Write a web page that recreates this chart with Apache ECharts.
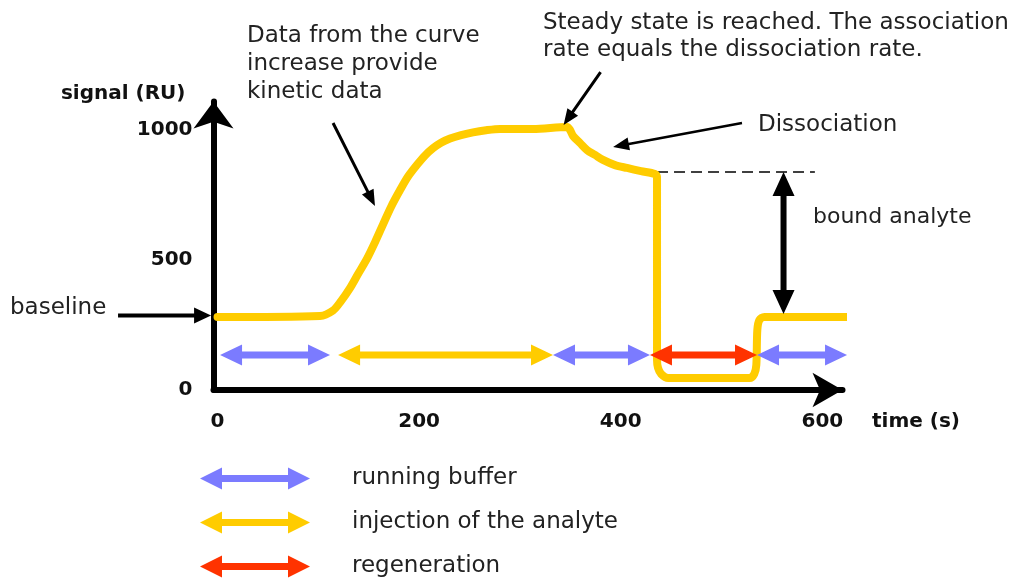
<!DOCTYPE html>
<html>
<head>
<meta charset="utf-8">
<script src="https://cdn.jsdelivr.net/npm/echarts@6/dist/echarts.min.js"></script>
<style>
html,body{margin:0;padding:0;background:#fff;}
#chart{width:1025px;height:583px;}
</style>
</head>
<body>
<div id="chart"></div>
<script>
// ---- data ----
const xTickValues = [0, 200, 400, 600];
const yTickValues = [0, 500, 1000];

// sensorgram curve (time s, signal RU)
const timeS = [0, 101.7, 114.6, 122.5, 131.4, 139.4, 148.3, 156.2, 164.2, 172.1, 181.1, 189, 197.9, 205.9, 213.8, 221.7, 230.7, 241.6, 253.5, 266.4, 280.3, 313, 346.7, 349.7, 352.7, 359.6, 366.6, 374.5, 382.4, 394.3, 406.2, 420.1, 434, 436, 436, 437, 440, 447, 528, 532.5, 534.5, 535.5, 537.5, 542.5, 624.7];
const signalRU = [281, 285, 306, 342, 392, 446, 505, 568, 637, 704, 769, 821, 866, 902, 930, 951, 967, 980, 991, 999, 1004, 1004, 1012, 1000, 977, 950, 923, 904, 885, 865, 854, 842, 831, 819, 115, 85, 62, 46, 46, 62, 96, 231, 269, 281, 281];

// phases [startTime, endTime] drawn at signal level phaseLevel
const phaseLevel = 135;
const runningBuffer = [[2.5, 111.6], [332.8, 429], [535.2, 624.5]];
const injection = [[119.6, 332.8]];
const regeneration = [[429, 535.2]];

// level of remaining bound analyte
const boundLevel = [838, 292];   // top, bottom of "bound analyte" arrow
const boundTime = 561.5;
const dashedLine = [[436, 838], [592.6, 838]];

// annotation arrows [t0, v0, t1, v1] (tip at t1,v1)
const baselineArrow = [[-98.7, 286.5, -6.4, 286.5]];
const kineticArrow = [[114.6, 1027, 156.2, 708]];
const steadyArrow = [[380, 1223, 343.3, 1019]];
const dissocArrow = [[520.3, 1027, 392.4, 935]];

const phaseNames = ['running buffer', 'injection of the analyte', 'regeneration'];
const phaseColors = ['#7B7BFF', '#FFCC00', '#FF3300'];

// ---- helpers ----
function arrowPolygon(p0, p1, head, headW, shaft, both) {
  const dx = p1[0] - p0[0], dy = p1[1] - p0[1];
  const L = Math.sqrt(dx * dx + dy * dy) || 1;
  const ux = dx / L, uy = dy / L, nx = -uy, ny = ux;
  const P = (b, a, n) => [b[0] + ux * a + nx * n, b[1] + uy * a + ny * n];
  const pts = [];
  if (both) {
    pts.push(p0, P(p0, head, headW / 2), P(p0, head, shaft / 2));
  } else {
    pts.push(P(p0, 0, shaft / 2));
  }
  pts.push(P(p1, -head, shaft / 2), P(p1, -head, headW / 2), p1, P(p1, -head, -headW / 2), P(p1, -head, -shaft / 2));
  if (both) {
    pts.push(P(p0, head, -shaft / 2), P(p0, head, -headW / 2));
  } else {
    pts.push(P(p0, 0, -shaft / 2));
  }
  return pts;
}

function arrowSeries(name, data, color, head, headW, shaft, both, z) {
  return {
    type: 'custom',
    name: name,
    coordinateSystem: 'cartesian2d',
    silent: true,
    clip: false,
    z: z || 5,
    itemStyle: { color: color },
    encode: { x: [0, 2], y: [1, 3] },
    data: data,
    renderItem: function (params, api) {
      const p0 = api.coord([api.value(0), api.value(1)]);
      const p1 = api.coord([api.value(2), api.value(3)]);
      return {
        type: 'polygon',
        shape: { points: arrowPolygon(p0, p1, head, headW, shaft, both) },
        style: { fill: color }
      };
    }
  };
}

const phaseSets = [runningBuffer, injection, regeneration];
const phaseSeries = phaseSets.map((set, i) =>
  arrowSeries(phaseNames[i], set.map(s => [s[0], phaseLevel, s[1], phaseLevel]), phaseColors[i], 22, 21, 7, true, 6)
);

const legendIcon = 'path://M0,11 L22,0 L22,7.5 L88,7.5 L88,0 L110,11 L88,22 L88,14.5 L22,14.5 L22,22 Z';
const txtFont = '"DejaVu Sans", sans-serif';

const legends = phaseNames.map((n, i) => ({
  orient: 'vertical',
  left: 200,
  top: 467 + i * 44,
  padding: 0,
  itemWidth: 110,
  itemHeight: 22,
  selectedMode: false,
  textStyle: { fontFamily: txtFont, fontSize: 23, color: '#222', padding: [0, 0, 0, 37] },
  data: [{ name: n, icon: legendIcon, itemStyle: { color: phaseColors[i] } }]
}));

const chart = echarts.init(document.getElementById('chart'), null, { renderer: 'canvas' });
chart.setOption({
  backgroundColor: '#ffffff',
  animation: false,
  grid: { left: 213.5, right: 182.5, top: 101.4, bottom: 193, containLabel: false },
  xAxis: {
    type: 'value',
    min: -4,
    max: 620,
    name: 'time (s)',
    nameLocation: 'end',
    nameGap: 29.5,
    nameTextStyle: { fontFamily: txtFont, fontWeight: 'bold', fontSize: 20, color: '#111', verticalAlign: 'top', padding: [22, 0, 0, 0], align: 'left' },
    axisLine: { onZero: false, lineStyle: { color: '#000', width: 6 }, symbol: ['none', 'arrow'], symbolSize: [26, 30] },
    axisTick: { show: false },
    splitLine: { show: false },
    axisLabel: {
      customValues: xTickValues,
      formatter: v => String(v),
      fontFamily: txtFont, fontWeight: 'bold', fontSize: 20, color: '#111', margin: 22
    }
  },
  yAxis: {
    type: 'value',
    min: 0,
    max: 1110,
    name: 'signal (RU)',
    nameLocation: 'end',
    nameGap: 8,
    nameTextStyle: { fontFamily: txtFont, fontWeight: 'bold', fontSize: 20, color: '#111', align: 'right', verticalAlign: 'middle', padding: [0, 28, 0, 0] },
    axisLine: { show: true, onZero: false, lineStyle: { color: '#000', width: 6 }, symbol: ['none', 'arrow'], symbolSize: [30, 27] },
    axisTick: { show: false },
    splitLine: { show: false },
    axisLabel: {
      customValues: yTickValues,
      formatter: v => String(v),
      fontFamily: txtFont, fontWeight: 'bold', fontSize: 20, color: '#111', margin: 21
    }
  },
  legend: legends,
  graphic: [
    { type: 'text', x: 247, y: 22, silent: true, style: { text: 'Data from the curve\nincrease provide\nkinetic data', font: '23px ' + txtFont, fill: '#222', lineHeight: 28 } },
    { type: 'text', x: 543, y: 9.5, silent: true, style: { text: 'Steady state is reached. The association\nrate equals the dissociation rate.', font: '23px ' + txtFont, fill: '#222', lineHeight: 27 } },
    { type: 'text', x: 758, y: 111, silent: true, style: { text: 'Dissociation', font: '23px ' + txtFont, fill: '#222', lineHeight: 28 } },
    { type: 'text', x: 813, y: 203, silent: true, style: { text: 'bound analyte', font: '22px ' + txtFont, fill: '#222', lineHeight: 28 } },
    { type: 'text', x: 10, y: 294, silent: true, style: { text: 'baseline', font: '23px ' + txtFont, fill: '#222', lineHeight: 28 } }
  ],
  series: [
    {
      type: 'line',
      data: timeS.map((t, i) => [t, signalRU[i]]),
      symbol: 'none',
      showSymbol: false,
      smooth: 0.3,
      clip: false,
      silent: true,
      z: 4,
      lineStyle: { color: '#FFCC00', width: 8, cap: 'round', join: 'round' }
    },
    {
      type: 'line',
      data: dashedLine,
      symbol: 'none',
      clip: false,
      silent: true,
      z: 3,
      lineStyle: { color: '#000', width: 1.5, type: [11, 6] }
    },
    ...phaseSeries,
    arrowSeries('bound', [[boundTime, boundLevel[0], boundTime, boundLevel[1]]], '#000', 24, 22, 6, true, 6),
    arrowSeries('baselineArrow', baselineArrow, '#000', 17, 16, 4, false, 6),
    arrowSeries('kinetic', kineticArrow, '#000', 16, 13, 3, false, 6),
    arrowSeries('steady', steadyArrow, '#000', 16, 13, 3, false, 6),
    arrowSeries('dissoc', dissocArrow, '#000', 16, 13, 2.5, false, 6)
  ]
});
</script>
</body>
</html>
